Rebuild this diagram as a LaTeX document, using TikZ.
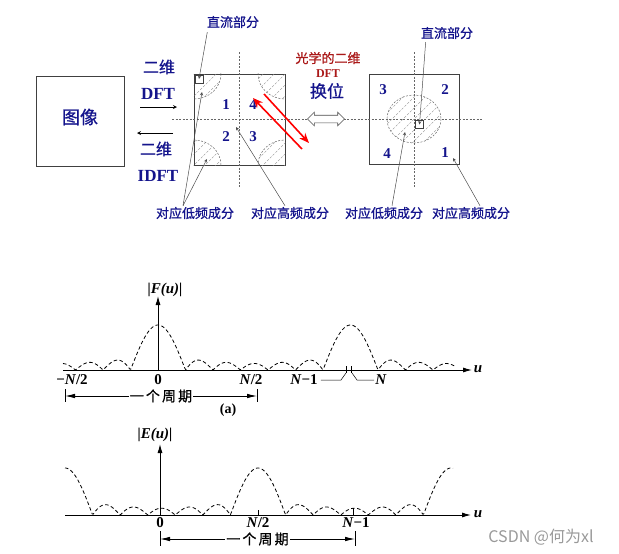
\documentclass[tikz,border=0pt]{standalone}
\usepackage{fontspec}
\setmainfont{Liberation Serif}
\newfontfamily\cjk[FakeBold=0.8]{Noto Sans CJK SC}
\newfontfamily\cjkspan[FakeBold=0.8, LetterSpace=15]{Noto Sans CJK SC}
\newfontfamily\cjkmark{Noto Sans CJK SC}
\usepackage{tikz}
\usetikzlibrary{shapes,arrows,arrows.meta,positioning,calc}
\definecolor{lbl-blue}{RGB}{20,20,140}
\definecolor{lbl-red}{RGB}{170,25,25}

\begin{document}
\begin{tikzpicture}[x=1pt, y=-1pt,
    box/.style={rectangle, draw=black!75, line width=0.8pt, inner sep=0pt},
    cn/.style={font=\cjk\fontsize{13}{13}\selectfont, text=lbl-blue, inner sep=1pt},
    big/.style={font=\cjk\fontsize{16}{16}\selectfont, text=lbl-blue, inner sep=1pt},
    dft/.style={font=\bfseries\fontsize{17}{17}\selectfont, text=lbl-blue, inner sep=1pt},
    num/.style={font=\bfseries\fontsize{15}{15}\selectfont, text=lbl-blue, inner sep=1pt},
    guide/.style={black!60, line width=0.5pt, dash pattern=on 2pt off 1.5pt},
    hatch/.style={black!45, line width=0.35pt, dash pattern=on 2.5pt off 1.5pt},
    ring/.style={black!60, line width=0.5pt, dash pattern=on 2pt off 1.5pt},
    lead/.style={->, >=stealth, black!70, line width=0.5pt},
    arrow/.style={->, >=stealth, line width=0.8pt},
    swaparrow/.style={-{Stealth[length=10pt, width=8pt]}, red, line width=1.6pt},
    axis/.style={-{Latex[length=9pt, width=5pt]}, line width=1pt},
    period/.style={{Latex[length=10pt, width=4.5pt]}-{Latex[length=10pt, width=4.5pt]}, line width=0.8pt},
    curve/.style={line width=0.8pt, dash pattern=on 3.5pt off 2.5pt},
    tick/.style={font=\bfseries\fontsize{15}{15}\selectfont, inner sep=1pt},
    var/.style={font=\bfseries\itshape\fontsize{15}{15}\selectfont, inner sep=1pt},
    span/.style={fill=white, inner sep=1pt, font=\cjkspan\fontsize{14}{14}\selectfont},
    declare function={lobe(\t)=(\t<1) ? cos(90*\t) : 0.22*abs(sin(180*\t))*sqrt(1.5/(\t+0.01));}]
  \useasboundingbox (0,0) rectangle (619,554);

  % Image box and transform arrows
  \node[box, minimum width=88pt, minimum height=90pt] (img) at (80,121) {};
  \node[font=\cjk\fontsize{18}{18}\selectfont, text=lbl-blue] (imgtxt) at (80,117) {图像};
  \node[big] (dimA) at (159,67) {二维};
  \node[dft] (dft) at (158,94) {DFT};
  \node[big] (dimB) at (156,149) {二维};
  \node[dft] (idft) at (158,176) {IDFT};
  \coordinate (fwdA) at (140,107);
  \coordinate (fwdB) at (177,107);
  \coordinate (bwdA) at (173,133);
  \coordinate (bwdB) at (137,133);
  \draw[arrow] (fwdA) -- (fwdB);
  \draw[arrow] (bwdA) -- (bwdB);

  % Spectrum squares
  \node[box, minimum size=91pt] (sqA) at (239.5,119.5) {};
  \node[box, minimum size=90pt] (sqB) at (414,119) {};

  % Corner parts of the first square
  \begin{scope}
    \clip (sqA.north west) rectangle (sqA.south east);
    \foreach \cx/\cy in {194/74, 285/74, 194/165, 285/165} {
      \begin{scope}
        \clip (\cx,\cy) ellipse [x radius=27, y radius=25];
        \foreach \k in {-66,-55,...,66}
          \draw[hatch] ({\cx+\k-30},{\cy+30}) -- ({\cx+\k+30},{\cy-30});
      \end{scope}
      \draw[ring] (\cx,\cy) ellipse [x radius=27, y radius=25];
    }
  \end{scope}

  % Centre part of the second square
  \begin{scope}
    \clip (414,119) ellipse [x radius=27, y radius=24];
    \foreach \k in {-66,-55,...,66}
      \draw[hatch] ({414+\k-30},{119+30}) -- ({414+\k+30},{119-30});
  \end{scope}
  \draw[ring] (414,119) ellipse [x radius=27, y radius=24];

  % Dashed axes
  \draw[guide] (239,52) -- (239,187);
  \draw[guide] (414,52) -- (414,188);
  \draw[guide] (172,119) -- (482,119);

  % DC squares
  \node[draw=black!75, fill=white, minimum size=8pt, inner sep=0pt, line width=0.5pt] (dcsqA) at (199,79) {};
  \node[draw=black!75, fill=white, minimum size=8pt, inner sep=0pt, line width=0.5pt] (dcsqB) at (419.5,124.5) {};

  % Quadrant numbers
  \node[num] (qA1) at (226,105) {1};
  \node[num] (qA4) at (253,105) {4};
  \node[num] (qA2) at (226,137) {2};
  \node[num] (qA3) at (253,137) {3};
  \node[num] (qB3) at (383,90) {3};
  \node[num] (qB2) at (445,90) {2};
  \node[num] (qB4) at (387,154) {4};
  \node[num] (qB1) at (445,153) {1};

  % Swap in the middle
  \node[double arrow, draw=black!70, fill=white, line width=0.6pt, minimum height=37pt,
        inner sep=3.5pt, double arrow head extend=3pt] (swap) at (326,119) {};
  \node[font=\cjk\fontsize{13}{13}\selectfont, text=lbl-red, inner sep=1pt] (optic) at (328,58) {光学的二维};
  \node[font=\bfseries\fontsize{12}{12}\selectfont, text=lbl-red, inner sep=1pt] (optdft) at (328,74) {DFT};
  \node[font=\cjk\fontsize{17}{17}\selectfont, text=lbl-blue, inner sep=1pt] (shift) at (327,91) {换位};
  \coordinate (redA) at (264,94);
  \coordinate (redB) at (309,143);
  \coordinate (redC) at (302,149);
  \coordinate (redD) at (253,98);
  \draw[swaparrow] (redA) -- (redB);
  \draw[swaparrow] (redC) -- (redD);

  % Labels and leaders
  \node[cn] (dcA) at (233,22) {直流部分};
  \node[cn] (dcB) at (447,33) {直流部分};
  \node[cn] (lowA) at (195,213) {对应低频成分};
  \node[cn] (highA) at (290,213) {对应高频成分};
  \node[cn] (lowB) at (384,213) {对应低频成分};
  \node[cn] (highB) at (471,213) {对应高频成分};
  \coordinate (lowA1) at (202,92);
  \coordinate (lowA2) at (207,159);
  \coordinate (highA1) at (236,127);
  \coordinate (lowB1) at (405,132);
  \coordinate (highB1) at (453,158);
  \draw[lead, shorten <=3pt] ([xshift=2pt]dcA.south west) -- (dcsqA.center);
  \draw[lead, shorten <=2pt] ([xshift=6pt]dcB.south west) -- (dcsqB.center);
  \draw[lead] ([xshift=-12pt]lowA.north) -- (lowA1);
  \draw[lead] ([xshift=-12pt]lowA.north) -- (lowA2);
  \draw[lead] ([xshift=-5pt]highA.north) -- (highA1);
  \draw[lead] ([xshift=8pt]lowB.north) -- (lowB1);
  \draw[lead] ([xshift=9pt]highB.north) -- (highB1);

  % Plot (a)
  \coordinate (oA) at (158,370);
  \coordinate (uA0) at (63,370);
  \coordinate (uA1) at (472,370);
  \coordinate (vA1) at (158,296);
  \draw[axis] (uA0) -- (uA1);
  \draw[axis] (oA) -- (vA1);
  \node[var] (FuA) at (165,290) {|F(u)|};
  \node[var] (uA) at (478,369) {u};
  \draw[curve] plot[domain=63:455, samples=400]
    (\x, {370-45*lobe(min(abs(\x-158),abs(\x-350.5))/27.5)});
  \node[tick] (mnA) at (72,380) {−\textit{N}/2};
  \node[tick] (zA) at (158,380) {0};
  \node[tick] (hfA) at (251,380) {\textit{N}/2};
  \node[tick] (nmA) at (304,380) {\textit{N}−1};
  \node[tick] (nA) at (381,380) {\textit{N}};
  \draw[line width=0.6pt] (346.5,366) -- (346.5,373) (351.5,366) -- (351.5,373);
  \draw[line width=0.5pt] ([xshift=2pt]nmA.east) -- (341,380) -- (346,373);
  \draw[line width=0.5pt] (352,373) -- (357,380) -- (nA.west);
  \draw[line width=0.7pt] (65,389) -- (65,402) (257,389) -- (257,402);
  \coordinate (pA0) at (65,396);
  \coordinate (pA1) at (257,396);
  \draw[period] (pA0) -- (pA1) node[midway, span] (perA) {一个周期};
  \node[font=\bfseries\fontsize{14}{14}\selectfont] (capA) at (228,410) {(a)};

  % Plot (b)
  \coordinate (oB) at (160,515);
  \coordinate (uB0) at (65,515);
  \coordinate (uB1) at (471,515);
  \coordinate (vB1) at (160,444);
  \draw[axis] (uB0) -- (uB1);
  \draw[axis] (oB) -- (vB1);
  \node[var] (EuB) at (155,435) {|E(u)|};
  \node[var] (uB) at (478,514) {u};
  \draw[curve] plot[domain=65:453, samples=400]
    (\x, {515-47*lobe(min(abs(\x-65),abs(\x-258),abs(\x-451))/27.6)});
  \draw[line width=0.6pt] (258,510) -- (258,515) (353,508) -- (353,515);
  \node[tick] (zB) at (160,523) {0};
  \node[tick] (hfB) at (258,523) {\textit{N}/2};
  \node[tick] (nmB) at (356,523) {\textit{N}−1};
  \draw[line width=0.7pt] (160,531) -- (160,546) (355,531) -- (355,546);
  \coordinate (pB0) at (160,539);
  \coordinate (pB1) at (355,539);
  \draw[period] (pB0) -- (pB1) node[midway, span] (perB) {一个周期};

  % Watermark
  \node[font=\cjkmark\fontsize{16}{16}\selectfont, text=black!40] (mark) at (541,537) {CSDN @何为xl};
\end{tikzpicture}
\end{document}
